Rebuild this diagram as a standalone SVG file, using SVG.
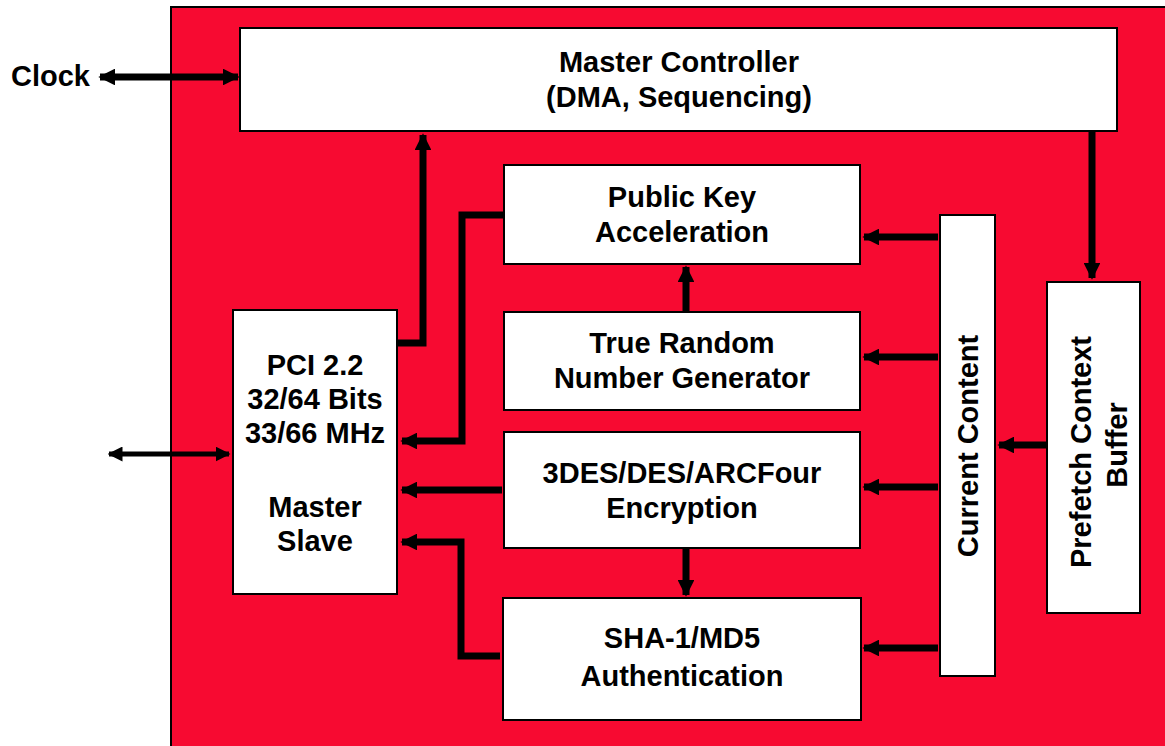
<svg xmlns="http://www.w3.org/2000/svg" width="1165" height="746" viewBox="0 0 1165 746">
<defs>
<style>
.box{fill:#fff;stroke:#000;stroke-width:2}
.t{font-family:"Liberation Sans",Arial,Helvetica,sans-serif;font-weight:bold;font-size:29px;text-anchor:middle;fill:#000}
.c{fill:none;stroke:#000;stroke-width:7}
.c2{fill:none;stroke:#000;stroke-width:5}
</style>
<marker id="ah" viewBox="0 0 10 10" refX="9" refY="5" markerWidth="2.4" markerHeight="2.4" orient="auto-start-reverse" markerUnits="strokeWidth">
<path d="M0,0 L10,5 L0,10 z" fill="#000"/>
</marker>
<marker id="ah2" viewBox="0 0 10 10" refX="9" refY="5" markerWidth="3" markerHeight="3" orient="auto-start-reverse" markerUnits="strokeWidth">
<path d="M0,0 L10,5 L0,10 z" fill="#000"/>
</marker>
</defs>
<rect x="0" y="0" width="1165" height="746" fill="#fff"/>
<rect id="chip" x="171" y="7" width="1000" height="745" fill="#F70A31" stroke="#000" stroke-width="2"/>
<g id="master-controller"><rect class="box" x="240" y="28" width="877" height="103"/>
<text class="t" x="679" y="72">Master Controller</text><text class="t" x="679" y="107">(DMA, Sequencing)</text></g>
<g id="public-key"><rect class="box" x="504" y="165" width="356" height="99"/>
<text class="t" x="682" y="207">Public Key</text><text class="t" x="682" y="242">Acceleration</text></g>
<g id="true-random"><rect class="box" x="504" y="312" width="356" height="98"/>
<text class="t" x="682" y="353">True Random</text><text class="t" x="682" y="388">Number Generator</text></g>
<g id="des"><rect class="box" x="504" y="432" width="356" height="116"/>
<text class="t" x="682" y="483">3DES/DES/ARCFour</text><text class="t" x="682" y="518">Encryption</text></g>
<g id="sha"><rect class="box" x="503" y="598" width="358" height="122"/>
<text class="t" x="682" y="648">SHA-1/MD5</text><text class="t" x="682" y="686">Authentication</text></g>
<g id="pci"><rect class="box" x="233" y="310" width="164" height="284"/>
<text class="t" x="315" y="375">PCI 2.2</text><text class="t" x="315" y="409">32/64 Bits</text><text class="t" x="315" y="443">33/66 MHz</text>
<text class="t" x="315" y="517">Master</text><text class="t" x="315" y="551">Slave</text></g>
<g id="current-content"><rect class="box" x="940" y="215" width="55" height="461"/>
<text class="t" transform="translate(978,446) rotate(-90)">Current Content</text></g>
<g id="prefetch"><rect class="box" x="1047" y="282" width="93" height="331"/>
<text class="t" transform="translate(1091,452) rotate(-90)">Prefetch Context</text>
<text class="t" transform="translate(1127,445) rotate(-90)">Buffer</text></g>
<g id="clock-label"><text class="t" x="11" y="86" style="text-anchor:start">Clock</text></g>
<g id="connectors">
<path class="c" d="M100,77 H238" marker-start="url(#ah)" marker-end="url(#ah)"/>
<path class="c2" d="M109,454 H229" marker-start="url(#ah2)" marker-end="url(#ah2)"/>
<path class="c" d="M397,343 H423 V135" marker-end="url(#ah)"/>
<path class="c" d="M504,215 H462 V441 H402" marker-end="url(#ah)"/>
<path class="c" d="M502,490 H402" marker-end="url(#ah)"/>
<path class="c" d="M500,656 H461 V542 H402" marker-end="url(#ah)"/>
<path class="c" d="M686,312 V267" marker-end="url(#ah)"/>
<path class="c" d="M686,548 V595" marker-end="url(#ah)"/>
<path class="c" d="M938,237 H864" marker-end="url(#ah)"/>
<path class="c" d="M938,357 H864" marker-end="url(#ah)"/>
<path class="c" d="M938,487 H864" marker-end="url(#ah)"/>
<path class="c" d="M938,648 H864" marker-end="url(#ah)"/>
<path class="c" d="M1046,445 H999" marker-end="url(#ah)"/>
<path class="c" d="M1092,131 V278" marker-end="url(#ah)"/>
</g>
</svg>
